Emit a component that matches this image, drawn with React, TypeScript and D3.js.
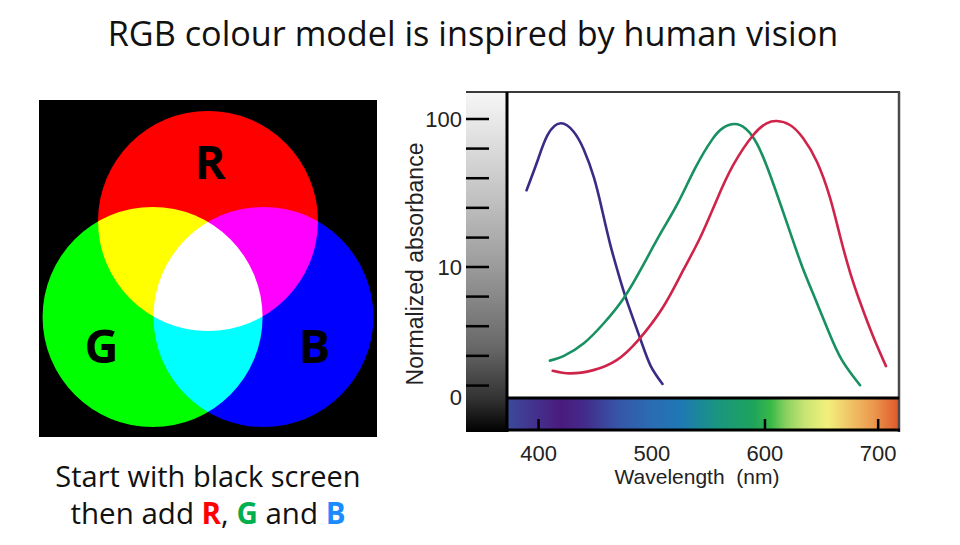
import React, { useEffect } from "react";
import * as d3 from "d3";

// ---------- data ----------
const titleText = "RGB colour model is inspired by human vision";
const captionLine1 = "Start with black screen";

const vennChannels = ["R", "G", "B"];
const vennColors = ["#ff0000", "#00ff00", "#0000ff"];
const vennAnglesDeg = [-90, 150, 30];
const captionChannelColors = ["#ff0000", "#00b050", "#1a8cff"];

const wavelengthTicks = [400, 500, 600, 700];
const wavelengthTickMarks = [400, 600, 700];
const absorbanceTicks = [100, 63.1, 39.8, 25.1, 15.8, 10, 6.31, 3.98, 2.51, 1.58];
const absorbanceLabelValues = [100, 10, 1.32];
const absorbanceLabelText = ["100", "10", "0"];

// [wavelength nm, normalized absorbance]
const blueCone: [number, number][] = [
  [389.4, 33], [399, 52], [408, 78], [419.5, 93.5], [431, 82], [440, 62],
  [449, 40], [456, 24.5], [463, 14.5], [470, 9.3], [478, 5.9], [490, 3.25],
  [499, 2.15], [509.5, 1.62],
];
const greenCone: [number, number][] = [
  [410, 2.33], [422, 2.5], [440, 3.05], [458, 4.2], [475.5, 6.2], [493, 10.5],
  [508, 17], [523, 27], [538, 46], [553, 72], [563, 87], [573, 92.5], [583, 86],
  [593, 68], [603, 45], [613, 27.5], [623, 16.5], [633, 10], [644, 6.2],
  [656, 3.7], [668, 2.35], [684, 1.59],
];
const redCone: [number, number][] = [
  [412.5, 1.99], [427.8, 1.91], [448.4, 2.01], [469, 2.35], [488.1, 3.21],
  [510.2, 5.39], [527.9, 9.55], [542.6, 15.7], [557.4, 28.4], [572, 48.9],
  [589.7, 78], [601.5, 93.5], [610.4, 96.9], [622.1, 91.1], [633.6, 74.4],
  [646, 51.2], [657.5, 29.3], [666.3, 16.2], [675.1, 9.25], [684, 5.8],
  [695.4, 3.42], [706.9, 2.14],
];
const coneColors = ["#3a2c86", "#179062", "#cf244a"];

const spectrumWavelengths = [373, 395, 420, 440, 470, 500, 525, 555, 590, 605, 618, 635, 655, 675, 695, 718];
const spectrumColors = [
  "#3b4a9c", "#43338e", "#4a1b7e", "#442a8a", "#3656a8", "#2a6cb2", "#1f78b4",
  "#1a9484", "#1ea45c", "#38b848", "#86d060", "#c8e474", "#f2f07c", "#f0c466",
  "#ec9a4e", "#e0582c",
];

const grayStops = [0, 0.1, 0.3, 0.5, 0.75, 0.9, 1];
const grayColors = ["#f6f6f6", "#e6e6e6", "#c4c4c4", "#9e9e9e", "#686868", "#333333", "#000000"];

// ---------- component ----------
export default function App() {
  useEffect(() => {
    document.body.style.margin = "0";
  }, []);

  const W = 960;
  const H = 545;

  // chart geometry
  const plotL = 508, plotR = 899, plotT = 92, specT = 398, specB = 430, frameB = 432;
  const barL = 466;
  const x = d3.scaleLinear().domain([373, 718.4]).range([plotL, plotR]);
  const y = d3.scaleLog().domain([1, 100]).range([415, 119]);

  const line = d3
    .line<[number, number]>()
    .x((d) => x(d[0]))
    .y((d) => y(d[1]))
    .curve(d3.curveNatural);

  const cones = [blueCone, greenCone, redCone];

  // venn geometry
  const vcx = 208, vcy = 285, vd = 64, vr = 110, labelDist = 123;

  const chartFont = "'Liberation Sans', Arial, sans-serif";
  const textFont = "'Open Sans', 'Noto Sans', sans-serif";

  return (
    <svg
      width={W}
      height={H}
      style={{ position: "absolute", left: 0, top: 0, display: "block", background: "#fff" }}
    >
      <defs>
        <linearGradient id="grayBar" x1="0" y1="0" x2="0" y2="1">
          {grayStops.map((s, i) => (
            <stop key={i} offset={s} stopColor={grayColors[i]} />
          ))}
        </linearGradient>
        <linearGradient
          id="spectrum"
          gradientUnits="userSpaceOnUse"
          x1={x(spectrumWavelengths[0])}
          x2={x(spectrumWavelengths[spectrumWavelengths.length - 1])}
          y1={0}
          y2={0}
        >
          {spectrumWavelengths.map((w, i) => (
            <stop
              key={i}
              offset={(w - spectrumWavelengths[0]) / (spectrumWavelengths[spectrumWavelengths.length - 1] - spectrumWavelengths[0])}
              stopColor={spectrumColors[i]}
            />
          ))}
        </linearGradient>
      </defs>

      {/* title */}
      <text x={473} y={46} textAnchor="middle" fontFamily={textFont} fontSize={34.2} fill="#111">
        {titleText}
      </text>

      {/* RGB venn */}
      <g style={{ isolation: "isolate" }}>
        <rect x={39} y={100} width={338} height={337} fill="#000" />
        {vennChannels.map((c, i) => {
          const a = (vennAnglesDeg[i] * Math.PI) / 180;
          return (
            <circle
              key={c}
              cx={vcx + vd * Math.cos(a)}
              cy={vcy + vd * Math.sin(a)}
              r={vr}
              fill={vennColors[i]}
              style={{ mixBlendMode: "screen" }}
            />
          );
        })}
      </g>
      {vennChannels.map((c, i) => {
        const a = (vennAnglesDeg[i] * Math.PI) / 180;
        return (
          <text
            key={"l" + c}
            x={vcx + labelDist * Math.cos(a) + (i === 0 ? 2 : 0)}
            y={vcy + labelDist * Math.sin(a)}
            dy="0.357em"
            textAnchor="middle"
            fontFamily={textFont}
            fontWeight={700}
            fontSize={47}
            fill="#000"
          >
            {c}
          </text>
        );
      })}

      {/* caption */}
      <text x={208} y={487} textAnchor="middle" fontFamily={textFont} fontSize={29} fill="#111">
        {captionLine1}
      </text>
      <text x={208} y={524} textAnchor="middle" fontFamily={textFont} fontSize={29.5} fill="#111">
        <tspan>then add </tspan>
        <tspan fill={captionChannelColors[0]} fontWeight={700}>{vennChannels[0]}</tspan>
        <tspan>, </tspan>
        <tspan fill={captionChannelColors[1]} fontWeight={700}>{vennChannels[1]}</tspan>
        <tspan> and </tspan>
        <tspan fill={captionChannelColors[2]} fontWeight={700}>{vennChannels[2]}</tspan>
      </text>

      {/* absorbance chart */}
      <rect x={barL} y={plotT} width={plotL - barL} height={frameB - plotT} fill="url(#grayBar)" />
      <rect x={plotL} y={plotT} width={plotR - plotL} height={specT - plotT} fill="#fff" />
      <rect x={plotL} y={specT} width={plotR - plotL} height={specB - specT} fill="url(#spectrum)" />
      {/* frame lines */}
      <line x1={barL} x2={plotR + 1} y1={plotT} y2={plotT} stroke="#3a3a3a" strokeWidth={2} />
      <line x1={plotR} x2={plotR} y1={plotT} y2={frameB} stroke="#4a4a4a" strokeWidth={2.5} />
      <line x1={plotL - 1} x2={plotL - 1} y1={plotT} y2={frameB} stroke="#000" strokeWidth={3} />
      <line x1={plotL} x2={plotR} y1={specT} y2={specT} stroke="#000" strokeWidth={3} />
      <line x1={plotL} x2={plotR + 1} y1={specB} y2={specB} stroke="#000" strokeWidth={3} />

      {/* y ticks */}
      {absorbanceTicks.map((v, i) => (
        <line key={"yt" + i} x1={barL} x2={489} y1={y(v)} y2={y(v)} stroke="#000" strokeWidth={2.5} />
      ))}
      {absorbanceLabelValues.map((v, i) => (
        <text
          key={"yl" + i}
          x={462}
          y={y(v)}
          dy="0.36em"
          textAnchor="end"
          fontFamily={chartFont}
          fontSize={22}
          fill="#222"
        >
          {absorbanceLabelText[i]}
        </text>
      ))}
      <text
        transform="translate(423,264) rotate(-90)"
        textAnchor="middle"
        fontFamily={chartFont}
        fontSize={23}
        fill="#222"
      >
        Normalized absorbance
      </text>

      {/* x ticks */}
      {wavelengthTickMarks.map((w) => (
        <line key={"xt" + w} x1={x(w)} x2={x(w)} y1={419} y2={specB} stroke="#000" strokeWidth={2.5} />
      ))}
      {wavelengthTicks.map((w) => (
        <text key={"xl" + w} x={x(w)} y={461} textAnchor="middle" fontFamily={chartFont} fontSize={22} fill="#222">
          {w}
        </text>
      ))}
      <text
        x={697}
        y={484}
        textAnchor="middle"
        fontFamily={chartFont}
        fontSize={21}
        fill="#222"
        style={{ whiteSpace: "pre" }}
      >
        {"Wavelength  (nm)"}
      </text>

      {/* cone curves */}
      {cones.map((c, i) => (
        <path key={"c" + i} d={line(c) || ""} fill="none" stroke={coneColors[i]} strokeWidth={2.6} strokeLinecap="round" />
      ))}
    </svg>
  );
}
